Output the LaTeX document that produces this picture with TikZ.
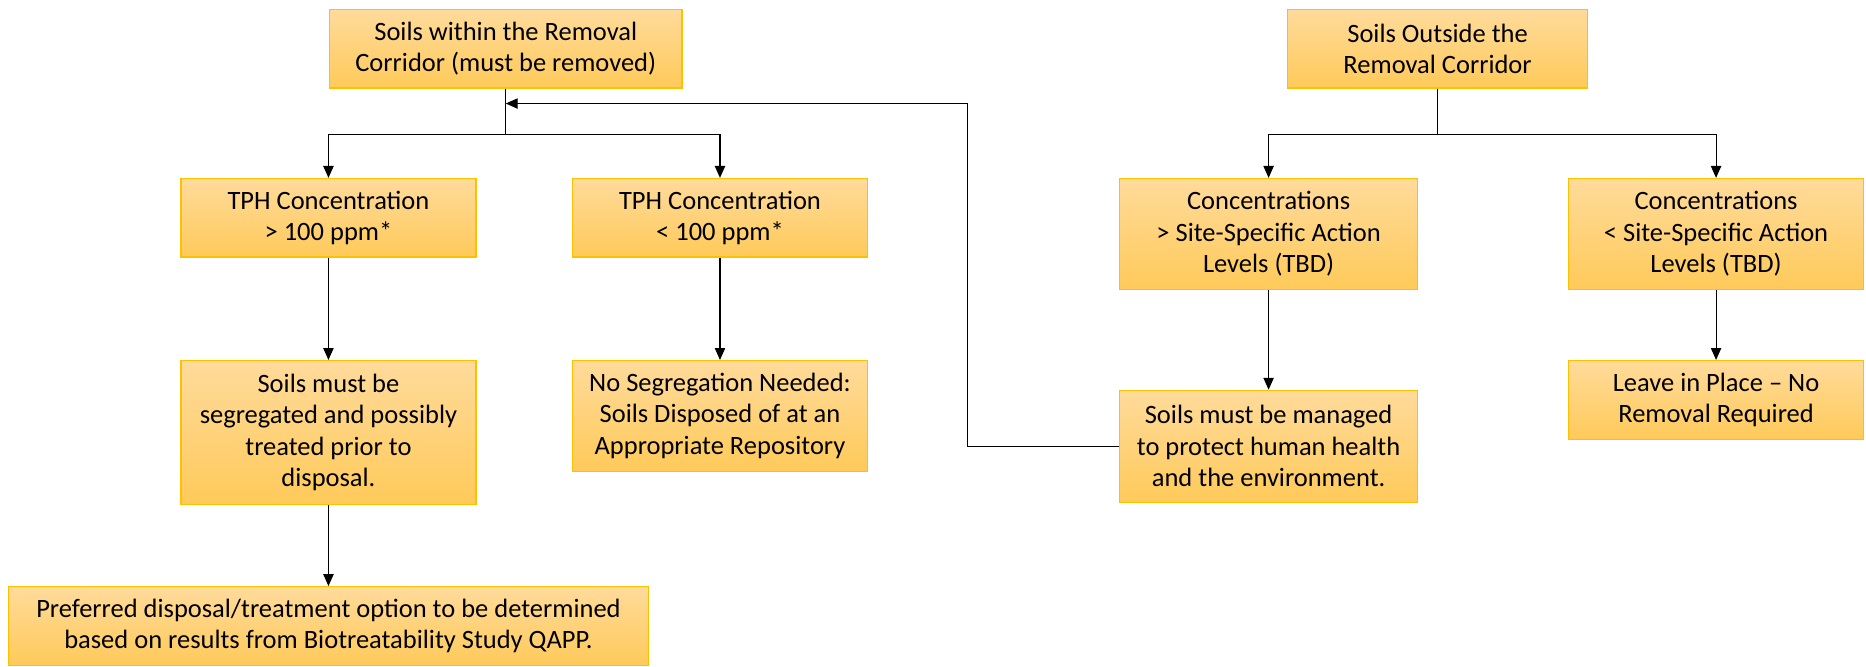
\documentclass[tikz,border=0pt]{standalone}
\usepackage{fontspec}
\setmainfont{Carlito}
\usetikzlibrary{arrows.meta}
\usetikzlibrary{positioning}
\definecolor{boxline}{HTML}{FFC000}
\definecolor{boxtop}{HTML}{FFDB9B}
\definecolor{boxbottom}{HTML}{FFCA5A}
\tikzset{
step box/.style = { rectangle, draw = boxline, top color = boxtop, bottom color = boxbottom, line width = 0.9pt, align = center, inner sep = 0pt, font = \fontsize{19}{22.6}\selectfont },
link/.style = { draw = black, line width = 0.8pt },
flow/.style = { link, -{Triangle[length = 3mm, width = 2.6mm]} },
}

\begin{document}
\begin{tikzpicture}[x = 0.03cm, y = -0.03cm]
    \useasboundingbox (0, 0) rectangle (1568, 560);
    % top row
    \node[step box, minimum width = 8.88cm, minimum height = 1.98cm] (soilsin) at (425, 41) {Soils within the Removal\\Corridor (must be removed)};
    \node[step box, minimum width = 7.56cm, minimum height = 1.98cm] (soilsout) at (1208, 41) {Soils Outside the\\Removal Corridor};
    % second row
    \node[step box, minimum width = 7.44cm, minimum height = 1.98cm] (tphhigh) at (276, 183) {TPH Concentration\\> 100 ppm*};
    \node[step box, minimum width = 7.44cm, minimum height = 1.98cm] (tphlow) at (605, 183) {TPH Concentration\\< 100 ppm*};
    \node[step box, minimum width = 7.5cm, minimum height = 2.79cm] (conchigh) at (1066, 196.5) {Concentrations\\> Site-Specific Action\\Levels (TBD)};
    \node[step box, minimum width = 7.44cm, minimum height = 2.79cm] (conclow) at (1442, 196.5) {Concentrations\\< Site-Specific Action\\Levels (TBD)};
    % third row
    \node[step box, minimum width = 7.44cm, minimum height = 3.63cm] (segregate) at (276, 363.5) {Soils must be\\segregated and possibly\\treated prior to\\disposal.};
    \node[step box, minimum width = 7.44cm, minimum height = 2.79cm] (noseg) at (605, 349.5) {No Segregation Needed:\\Soils Disposed of at an\\Appropriate Repository};
    \node[step box, minimum width = 7.5cm, minimum height = 2.82cm] (managed) at (1066, 375) {Soils must be managed\\to protect human health\\and the environment.};
    \node[step box, minimum width = 7.44cm, minimum height = 1.98cm] (leave) at (1442, 336) {Leave in Place -- No\\Removal Required};
    % bottom
    \node[step box, minimum width = 16.14cm, minimum height = 1.98cm] (preferred) at (276, 526) {Preferred disposal/treatment option to be determined\\based on results from Biotreatability Study QAPP.};
    % splits
    \coordinate (split in) at (425, 113);
    \coordinate (split out) at (1208, 113);
    \coordinate (back corner) at (813, 87);
    \draw[link] (soilsin.south) -- (split in);
    \draw[flow] (split in) -| (tphhigh.north);
    \draw[flow] (split in) -| (tphlow.north);
    \draw[link] (soilsout.south) -- (split out);
    \draw[flow] (split out) -| (conchigh.north);
    \draw[flow] (split out) -| (conclow.north);
    % straight down
    \draw[flow] (tphhigh) -- (segregate);
    \draw[flow] (tphlow) -- (noseg);
    \draw[flow] (conchigh) -- (managed);
    \draw[flow] (conclow) -- (leave);
    \draw[flow] (segregate) -- (preferred);
    % back to the removal corridor
    \draw[flow] (managed.west) -| (back corner) -- (soilsin.south |- back corner);
\end{tikzpicture}
\end{document}
